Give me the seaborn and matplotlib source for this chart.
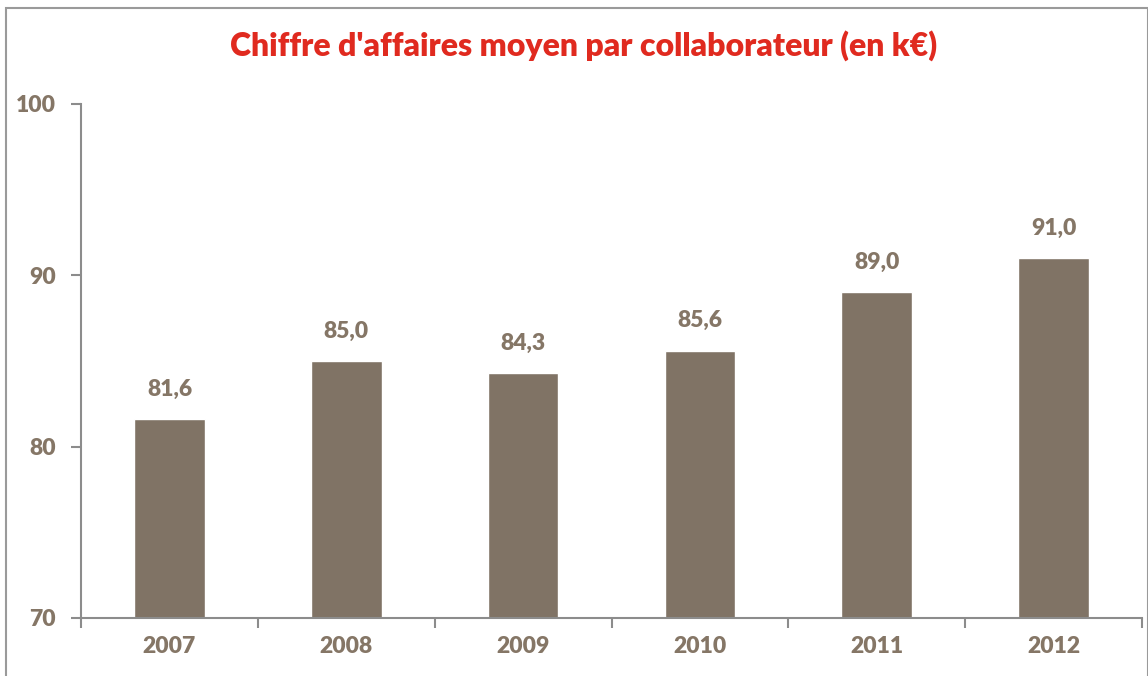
import matplotlib
matplotlib.use("Agg")
import matplotlib.pyplot as plt
import seaborn as sns
import pandas as pd
from matplotlib.patches import Rectangle

# Donnees
annees = ["2007", "2008", "2009", "2010", "2011", "2012"]
ca_moyen = [81.6, 85.0, 84.3, 85.6, 89.0, 91.0]
y_ticks = [70, 80, 90, 100]

titre = "Chiffre d'affaires moyen par collaborateur (en k€)"
couleur_barre = "#807365"
couleur_texte = "#857666"
couleur_titre = "#E02A1F"

sns.set_style("white")
plt.rcParams["font.family"] = ["Lato", "DejaVu Sans"]

df = pd.DataFrame({"annee": annees, "ca": ca_moyen})

fig = plt.figure(figsize=(11.48, 6.76), dpi=100)
ax = fig.add_axes([0.0706, 0.0858, 0.9242, 0.7604])

sns.barplot(data=df, x="annee", y="ca", color=couleur_barre, width=0.4,
            saturation=1, ax=ax)

ax.set_ylim(70, 100)
ax.set_xlim(-0.5, len(annees) - 0.5)
ax.set_yticks(y_ticks)
ax.set_yticklabels([str(t) for t in y_ticks], fontsize=16.5, fontweight="heavy",
                   color=couleur_texte)
ax.set_xticklabels(annees, fontsize=16.5, fontweight="heavy", color=couleur_texte)
ax.set_xlabel("")
ax.set_ylabel("")

# Axes style
for cote in ["top", "right"]:
    ax.spines[cote].set_visible(False)
for cote in ["left", "bottom"]:
    ax.spines[cote].set_color("#8c8c8c")
    ax.spines[cote].set_linewidth(1.5)

ax.tick_params(axis="y", length=7, width=1.5, color="#8c8c8c", pad=11, left=True)
# ticks de l'axe x entre les categories
ax.set_xticks([i + 0.5 for i in range(-1, len(annees))], minor=True)
ax.tick_params(axis="x", which="major", length=0, pad=13)
ax.tick_params(axis="x", which="minor", length=7, width=1.5, color="#8c8c8c",
               bottom=True)

# Etiquettes de valeurs
for i, v in enumerate(ca_moyen):
    ax.annotate(f"{v:.1f}".replace(".", ","), (i, v), xytext=(0, 14),
                textcoords="offset points", ha="center", va="bottom",
                fontsize=16.5, fontweight="heavy", color=couleur_texte)

fig.text(0.508, 0.933, titre, ha="center", va="center", fontsize=23,
         fontweight="heavy", color=couleur_titre)

# Cadre autour du graphique
fig.patches.append(Rectangle((0.0052, -0.05), 0.9948, 1.038, transform=fig.transFigure,
                             fill=False, edgecolor="#9a9a9a", linewidth=1.5))

fig.savefig("out.png", dpi=100)
